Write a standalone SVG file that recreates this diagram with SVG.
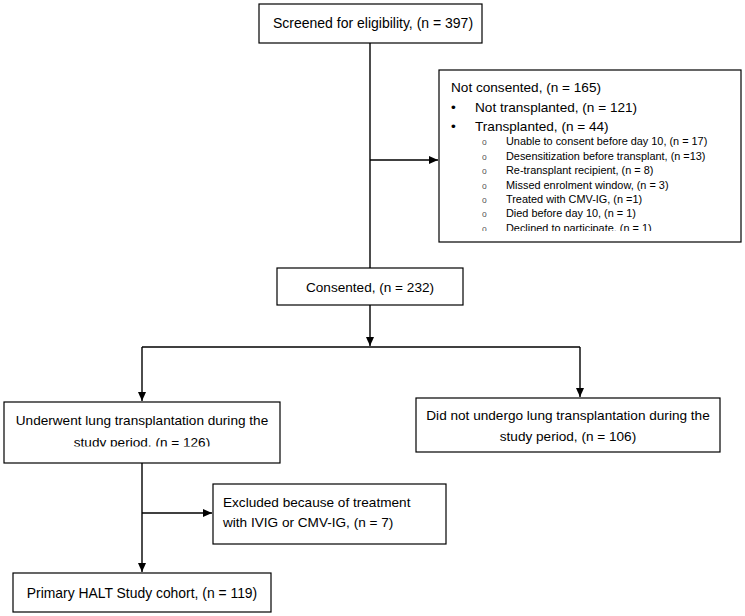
<svg xmlns="http://www.w3.org/2000/svg" width="745" height="616" viewBox="0 0 745 616">
<style>
.box{fill:#fff;stroke:#000;stroke-width:1.2}
.t{font-family:"Liberation Sans",Arial,sans-serif;font-size:13.6px;fill:#000}
.c{text-anchor:middle}
.s{font-family:"Liberation Sans",Arial,sans-serif;font-size:10.9px;fill:#000}
.o{font-family:"Liberation Sans",Arial,sans-serif;font-size:8.5px;fill:#555}
.ln{fill:none;stroke:#000;stroke-width:1.4}
</style>
<defs>
<marker id="ah" markerWidth="10" markerHeight="10" refX="9" refY="5" orient="auto" markerUnits="userSpaceOnUse">
<path d="M0,1 L9,5 L0,9 Z" fill="#000"/>
</marker>
<clipPath id="clipNC"><rect x="439" y="70" width="302" height="161"/></clipPath>
<clipPath id="clipUL"><rect x="4" y="402" width="276" height="44.5"/></clipPath>
</defs>
<g id="connectors">
<line class="ln" x1="370" y1="43" x2="370" y2="268"/>
<line class="ln" x1="370" y1="160" x2="438" y2="160" marker-end="url(#ah)"/>
<line class="ln" x1="370" y1="305" x2="370" y2="346" marker-end="url(#ah)"/>
<line class="ln" x1="142" y1="347" x2="580" y2="347"/>
<line class="ln" x1="142" y1="347" x2="142" y2="401" marker-end="url(#ah)"/>
<line class="ln" x1="580" y1="347" x2="580" y2="397" marker-end="url(#ah)"/>
<line class="ln" x1="142" y1="463" x2="142" y2="572" marker-end="url(#ah)"/>
<line class="ln" x1="142" y1="513" x2="212" y2="513" marker-end="url(#ah)"/>
</g>
<g id="screened">
<rect class="box" x="259" y="4" width="223" height="39"/>
<text class="t c" x="373" y="28" style="font-size:14px">Screened for eligibility, (n = 397)</text>
</g>
<g id="not-consented">
<rect class="box" x="439" y="70" width="302" height="172"/>
<g clip-path="url(#clipNC)">
<text class="t" x="451" y="92">Not consented, (n = 165)</text>
<text class="t" x="451" y="112">•</text>
<text class="t" x="475" y="112">Not transplanted, (n = 121)</text>
<text class="t" x="451" y="131">•</text>
<text class="t" x="475" y="131">Transplanted, (n = 44)</text>
<g class="o">
<text x="482" y="145">o</text>
<text x="482" y="160">o</text>
<text x="482" y="174">o</text>
<text x="482" y="189">o</text>
<text x="482" y="203">o</text>
<text x="482" y="217">o</text>
<text x="482" y="232">o</text>
</g>
<g class="s">
<text x="506" y="145">Unable to consent before day 10, (n = 17)</text>
<text x="506" y="160">Desensitization before transplant, (n =13)</text>
<text x="506" y="174">Re-transplant recipient, (n = 8)</text>
<text x="506" y="189">Missed enrolment window, (n = 3)</text>
<text x="506" y="203">Treated with CMV-IG, (n =1)</text>
<text x="506" y="217">Died before day 10, (n = 1)</text>
<text x="506" y="232">Declined to participate, (n = 1)</text>
</g>
</g>
</g>
<g id="consented">
<rect class="box" x="277" y="268" width="186" height="37"/>
<text class="t c" x="370" y="292">Consented, (n = 232)</text>
</g>
<g id="underwent">
<rect class="box" x="4" y="402" width="276" height="61"/>
<g clip-path="url(#clipUL)">
<text class="t c" x="142" y="425">Underwent lung transplantation during the</text>
<text class="t c" x="142" y="447">study period, (n = 126)</text>
</g>
</g>
<g id="not-undergo">
<rect class="box" x="416" y="398" width="304" height="54"/>
<text class="t c" x="568" y="420">Did not undergo lung transplantation during the</text>
<text class="t c" x="568" y="441">study period, (n = 106)</text>
</g>
<g id="excluded">
<rect class="box" x="213" y="484" width="233" height="60"/>
<text class="t" x="223" y="507">Excluded because of treatment</text>
<text class="t" x="223" y="527">with IVIG or CMV-IG, (n = 7)</text>
</g>
<g id="primary">
<rect class="box" x="13" y="573" width="258" height="39"/>
<text class="t c" x="142" y="598" style="font-size:13.9px">Primary HALT Study cohort, (n = 119)</text>
</g>
</svg>
